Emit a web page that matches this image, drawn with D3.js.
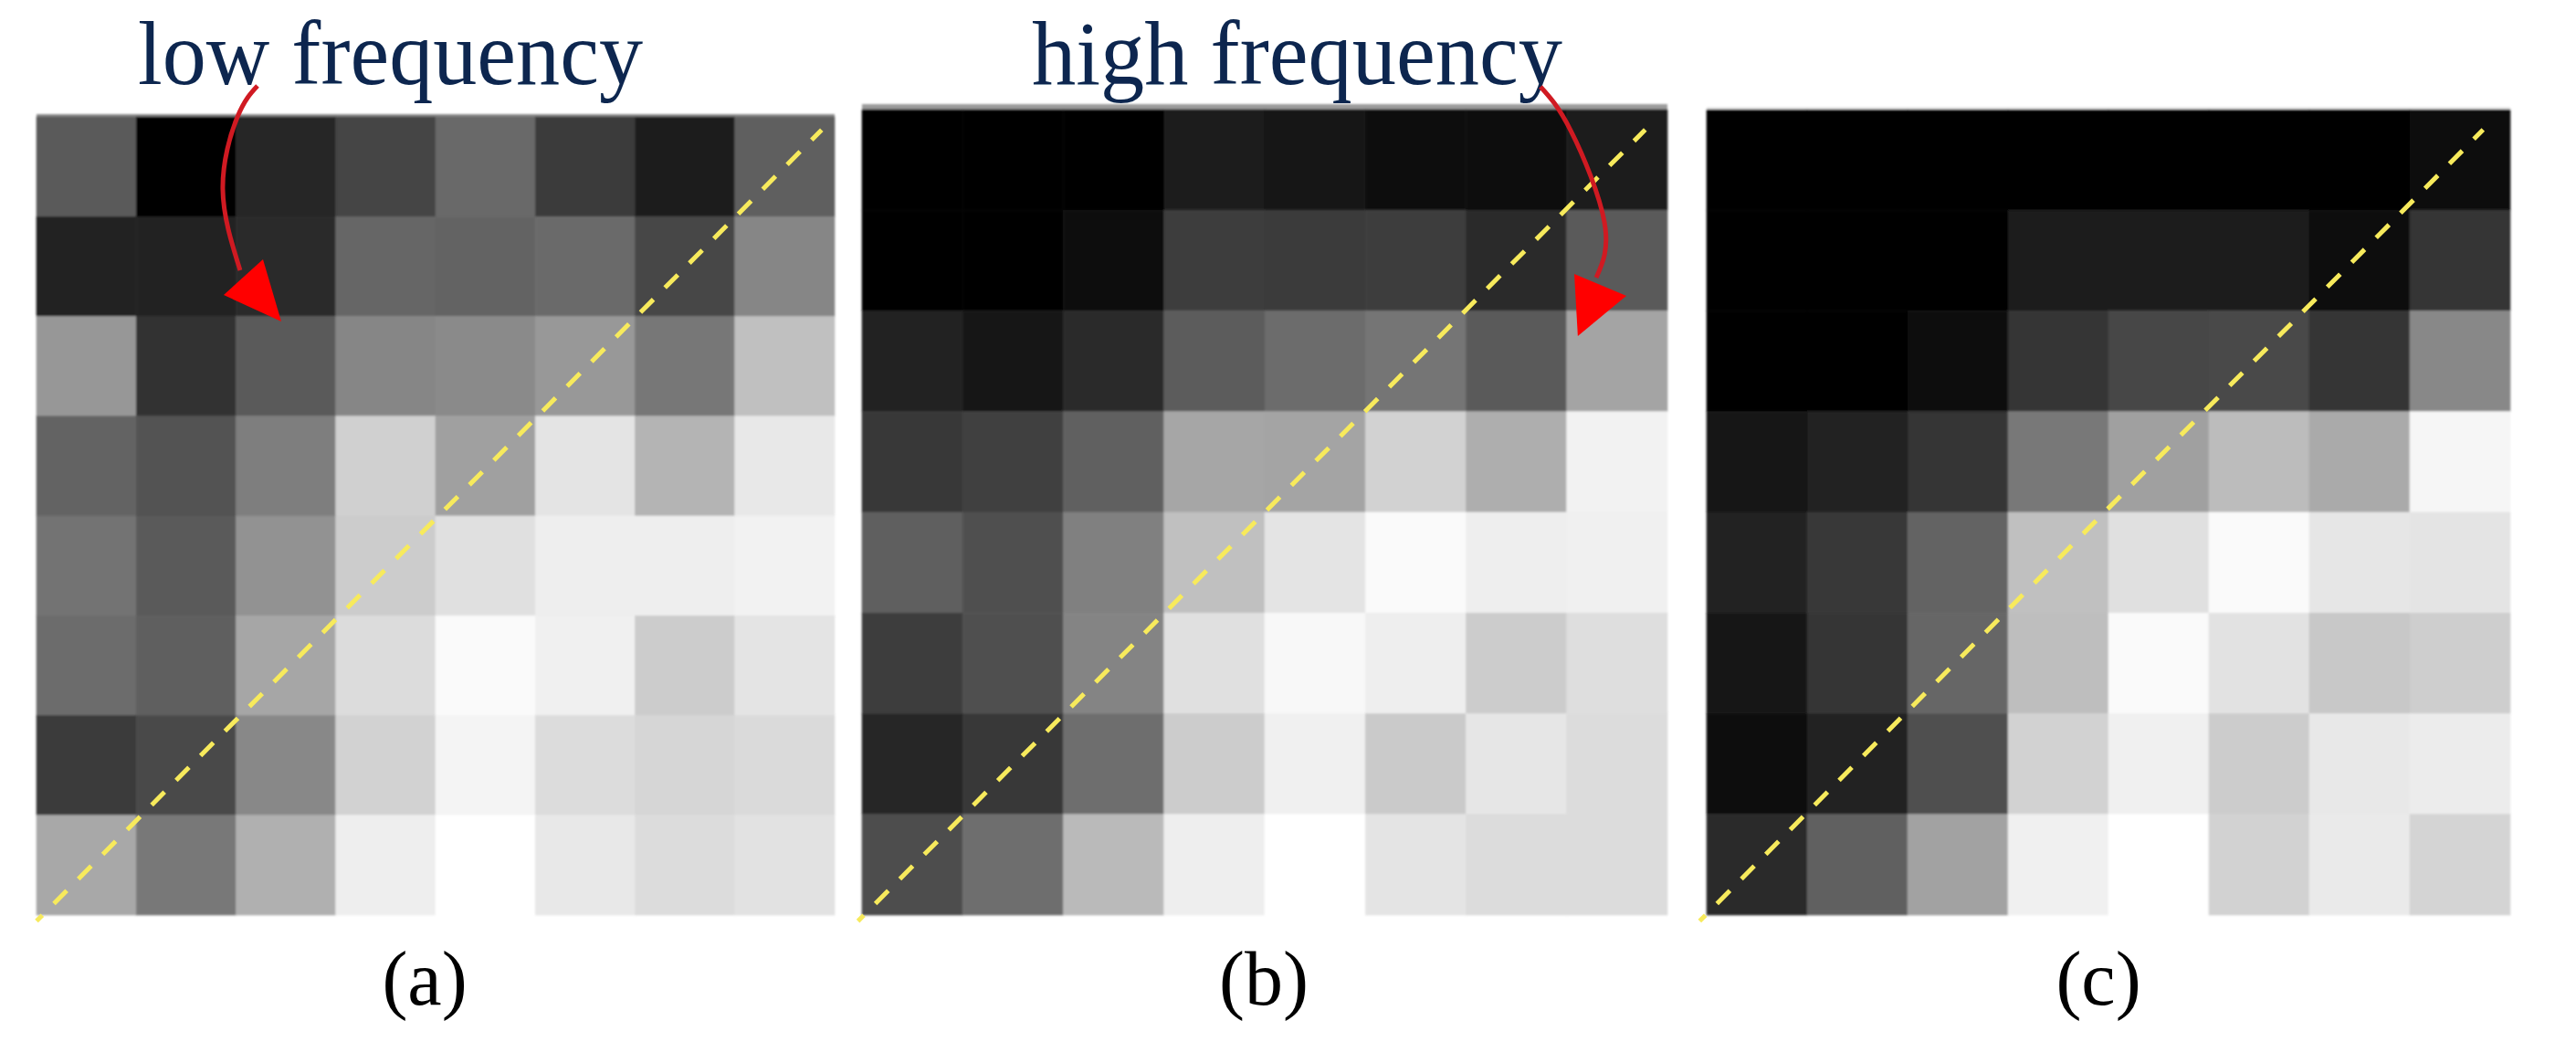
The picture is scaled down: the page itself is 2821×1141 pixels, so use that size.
<!DOCTYPE html>
<html lang="en">

<head>
    <meta charset="UTF-8">
    <title>DCT coefficient blocks</title>
    <script src="https://d3js.org/d3.v7.min.js"></script>
    <style>
        html, body {
            margin: 0;
            background: #fff;
        }

        svg {
            display: block;
        }

        text {
            font-family: "Liberation Serif", serif;
        }
    </style>
</head>

<body>
    <script>
        // Grey level (0-255) of every cell, row by row from the top
        const cellsA = [
            [90, 0, 38, 68, 105, 58, 30, 94],
            [32, 33, 42, 102, 100, 106, 70, 134],
            [151, 48, 90, 134, 138, 152, 119, 192],
            [99, 82, 126, 208, 160, 228, 180, 232],
            [115, 90, 146, 204, 224, 238, 238, 242],
            [108, 94, 166, 220, 250, 240, 204, 228],
            [58, 74, 136, 210, 244, 220, 214, 218],
            [168, 120, 176, 238, 255, 232, 220, 226]
        ];
        const cellsB = [
            [0, 0, 2, 26, 22, 16, 8, 30],
            [0, 6, 14, 60, 58, 60, 42, 90],
            [36, 24, 42, 92, 108, 116, 90, 164],
            [56, 64, 96, 166, 164, 210, 174, 242],
            [94, 80, 128, 192, 228, 250, 238, 240],
            [60, 80, 132, 224, 248, 238, 204, 222],
            [40, 56, 110, 204, 240, 202, 230, 220],
            [78, 110, 186, 238, 255, 228, 220, 220]
        ];
        const cellsC = [
            [0, 0, 0, 4, 4, 4, 4, 14],
            [0, 0, 0, 28, 28, 28, 16, 54],
            [0, 4, 14, 52, 70, 74, 52, 136],
            [20, 32, 52, 120, 160, 188, 170, 246],
            [34, 56, 100, 192, 224, 250, 230, 228],
            [24, 52, 102, 190, 250, 226, 200, 206],
            [16, 32, 80, 210, 240, 204, 232, 236],
            [44, 96, 162, 240, 255, 210, 234, 212]
        ];

        // Dashed diagonal ends, in cell units from the bottom left corner
        const diagonalA = [[0, -0.06], [7.87, 7.87]];
        const diagonalB = [[-0.04, -0.06], [7.78, 7.8]];
        const diagonalC = [[-0.07, -0.06], [7.73, 7.8]];

        // Red arrows, in the same cell units
        const arrowShaftA = [[2.215, 8.311], [2.014, 8], [1.867, 7.277], [2.041, 6.462]];
        const arrowHeadA = [[2.27, 6.572], [1.876, 6.215], [2.453, 5.95]];
        const arrowShaftB = [[6.739, 8.227], [7.04, 7.791], [7.374, 6.884], [7.293, 6.331]];
        const arrowHeadB = [[7.075, 6.367], [7.592, 6.15], [7.11, 5.75]];

        const captions = ["(a)", "(b)", "(c)"];
        const arrowLabels = ["low frequency", "high frequency"];

        const width = 2821;
        const height = 1141;

        const svg = d3.select("body").append("svg")
            .attr("width", width)
            .attr("height", height);

        // The source picture is a soft bitmap, so blocks and text get a slight blur
        const defs = svg.append("defs");
        defs.append("filter").attr("id", "soft")
            .append("feGaussianBlur").attr("stdDeviation", 1.2);
        defs.append("filter").attr("id", "softText")
            .append("feGaussianBlur").attr("stdDeviation", 0.6);

        // Grey scale shared by the three blocks
        const grey = d3.scaleLinear().domain([0, 255]).range(["#000", "#fff"]);

        const rowIndex = d3.range(8);

        const panels = [
            { cells: cellsA, diagonal: diagonalA, left: 40, right: 914, top: 128, bottom: 1002, edge: "#8a8a8a", edgeHeight: 3, captionX: 465 },
            { cells: cellsB, diagonal: diagonalB, left: 944, right: 1826, top: 120, bottom: 1002, edge: "#9c9c9c", edgeHeight: 6, captionX: 1384 },
            { cells: cellsC, diagonal: diagonalC, left: 1869, right: 2749, top: 120, bottom: 1002, edge: "#eeeeee", edgeHeight: 3, captionX: 2298 }
        ];

        panels.forEach(panel => {
            panel.band = d3.scaleBand().domain(rowIndex).range([panel.left, panel.right]);
            panel.rowBand = d3.scaleBand().domain(rowIndex).range([panel.top, panel.bottom]);
            // Continuous scales in cell units, used by the diagonal and the arrows
            panel.x = d3.scaleLinear().domain([0, 8]).range([panel.left, panel.right]);
            panel.y = d3.scaleLinear().domain([0, 8]).range([panel.bottom, panel.top]);
            panel.line = d3.line().x(d => panel.x(d[0])).y(d => panel.y(d[1]));
        });

        const panelGroups = svg.selectAll(".panel")
            .data(panels)
            .join("g")
            .attr("class", "panel");

        // Thin lighter edge above each block, then the 8x8 cells
        panelGroups.each(function (panel) {
            const block = d3.select(this).append("g").attr("filter", "url(#soft)");

            block.append("rect")
                .attr("x", panel.left)
                .attr("y", panel.top - panel.edgeHeight)
                .attr("width", panel.right - panel.left)
                .attr("height", panel.edgeHeight)
                .attr("fill", panel.edge);

            const flat = panel.cells.flatMap((row, r) => row.map((value, c) => ({ r, c, value })));
            block.selectAll(".cell")
                .data(flat)
                .join("rect")
                .attr("class", "cell")
                .attr("x", d => panel.band(d.c))
                .attr("y", d => panel.rowBand(d.r))
                .attr("width", panel.band.bandwidth())
                .attr("height", panel.rowBand.bandwidth())
                .attr("fill", d => grey(d.value))
                .attr("stroke", d => grey(d.value))
                .attr("stroke-width", 0.6);
        });

        // Dashed yellow diagonal
        panelGroups.append("path")
            .attr("d", d => d.line(d.diagonal))
            .attr("fill", "none")
            .attr("stroke", "#f7ea5c")
            .attr("stroke-width", 5)
            .attr("stroke-dasharray", "20 18")
            .attr("stroke-dashoffset", 11);

        // Captions under the blocks
        panelGroups.append("text")
            .attr("x", d => d.captionX)
            .attr("y", 1100)
            .attr("text-anchor", "middle")
            .attr("font-size", 84)
            .attr("fill", "#000")
            .attr("filter", "url(#softText)")
            .text((d, i) => captions[i]);

        // Labels above the first two blocks
        svg.append("text")
            .attr("x", 151)
            .attr("y", 92)
            .attr("font-size", 99)
            .attr("textLength", 553)
            .attr("lengthAdjust", "spacingAndGlyphs")
            .attr("fill", "#0b2850")
            .attr("filter", "url(#softText)")
            .text(arrowLabels[0]);

        svg.append("text")
            .attr("x", 1130)
            .attr("y", 92)
            .attr("font-size", 99)
            .attr("textLength", 581)
            .attr("lengthAdjust", "spacingAndGlyphs")
            .attr("fill", "#0b2850")
            .attr("filter", "url(#softText)")
            .text(arrowLabels[1]);

        // Curved arrows from the labels into the blocks
        const drawArrow = (panel, shaft, head) => {
            const curve = d3.line()
                .x(d => panel.x(d[0]))
                .y(d => panel.y(d[1]))
                .curve(d3.curveNatural);

            svg.append("path")
                .attr("d", curve(shaft))
                .attr("fill", "none")
                .attr("stroke", "#d01a22")
                .attr("stroke-width", 5);

            svg.append("path")
                .attr("d", panel.line(head) + "Z")
                .attr("fill", "#ff0000");
        };

        drawArrow(panels[0], arrowShaftA, arrowHeadA);
        drawArrow(panels[1], arrowShaftB, arrowHeadB);
    </script>
</body>

</html>
